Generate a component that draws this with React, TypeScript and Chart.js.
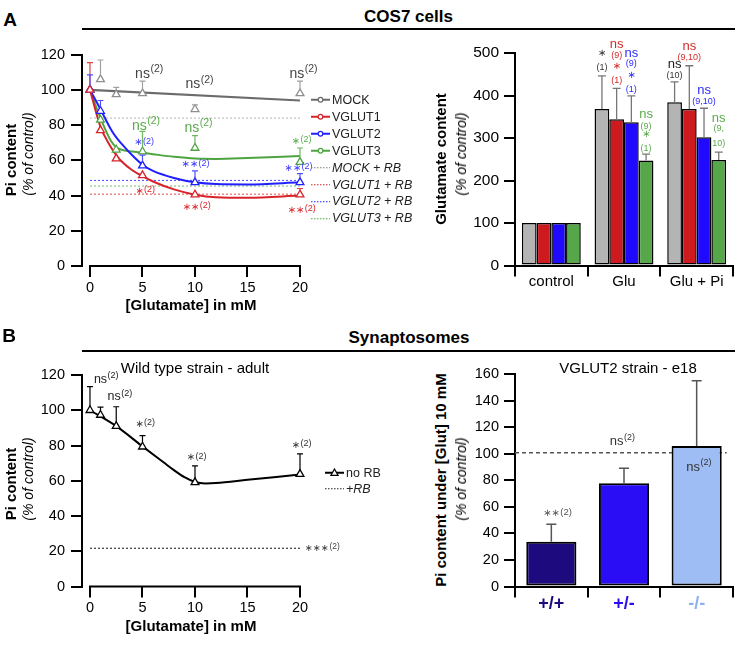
import React, { useEffect, useRef } from 'react';
import { Chart, registerables } from 'chart.js';

Chart.register(...registerables);

const FONT = '"Liberation Sans", Arial, Helvetica, sans-serif';
const AST_FONT = '"DejaVu Sans", sans-serif';
Chart.defaults.font.family = FONT;
Chart.defaults.color = '#000';

// ---------- Panel A left: COS7 Pi content ----------
const GLU_X = [0, 1, 2.5, 5, 10, 20];
const GLU_XTICKS = [0, 5, 10, 15, 20];
const PI_YTICKS = [0, 20, 40, 60, 80, 100, 120];
const MOCK_Y = [100, 106, 97.5, 98, 89, 98];
const MOCK_ERR = [null, 117, 101.5, 105, 91.5, 105];
const VGLUT1_Y = [100, 77, 61, 51.5, 40.5, 40.5];
const VGLUT1_ERR = [115.5, null, null, null, null, 44];
const VGLUT2_Y = [100, 88, null, 57, 47.5, 47.5];
const VGLUT2_ERR = [108.5, 94, null, 63, 54, 52.5];
const VGLUT3_Y = [100, 83, 66, 65, 67, 59];
const VGLUT3_ERR = [null, null, null, 76.5, 74, 67];
const MOCK_FIT_X = [0, 20];
const MOCK_FIT = [100, 94];
const FIT_X = [0, 1, 2, 2.5, 3, 4, 5, 6, 8, 10, 12, 15, 20];
const VGLUT1_FIT = [100, 79, 67.5, 63, 59.5, 54.5, 51, 48, 43.5, 40.5, 39, 38.7, 40];
const VGLUT2_FIT = [100, 89, 77.5, 73, 69.5, 63, 57.5, 54, 50, 47.5, 46.5, 46.3, 47.5];
const VGLUT3_FIT = [100, 84, 71, 67.5, 66, 65, 64.3, 63.5, 62, 61, 60.8, 61.3, 62.5];
const RB_X = [0, 20];
const MOCK_RB = 84;
const VGLUT1_RB = 40.8;
const VGLUT2_RB = 48.6;
const VGLUT3_RB = 45.4;

// ---------- Panel A right: glutamate content ----------
const GLU_CATS = ['control', 'Glu', 'Glu + Pi'];
const GLUT_YTICKS = [0, 100, 200, 300, 400, 500];
const GLUT_MOCK = [100, 368, 384];
const GLUT_V1 = [100, 344, 368];
const GLUT_V2 = [100, 337, 302];
const GLUT_V3 = [100, 247, 248];
const GLUT_MOCK_ERR = [null, 446, 432];
const GLUT_V1_ERR = [null, 417, 470];
const GLUT_V2_ERR = [null, 399, 370];
const GLUT_V3_ERR = [null, 262, 267];

// ---------- Panel B left: wild type synaptosomes ----------
const WT_Y = [100, 97.3, 91, 79.3, 59.1, 63.8];
const WT_ERR = [113.4, 101.8, 102, 85.6, 68.4, 75.2];
const WT_FIT_X = [0, 2.5, 5, 7, 8, 9, 10, 11, 12, 15, 20];
const WT_FIT = [100, 91, 79.5, 70.5, 66, 62, 59.3, 58.5, 58.7, 60.5, 63.5];
const WT_RB = 21.7;

// ---------- Panel B right: VGLUT2 strain ----------
const GENO = ['+/+', '+/-', '-/-'];
const GENO_YTICKS = [0, 20, 40, 60, 80, 100, 120, 140, 160];
const GENO_Y = [33.7, 77.7, 105.8];
const GENO_ERR = [46.8, 89, 155];
const GENO_REF = 100.7;
const GENO_REF_X = [0, 1];

const RED = '#d8232a';
const BLUE = '#1f1fff';
const GREEN = '#4fa442';
const GRAY_PT = '#8e8e8e';
const GRAY_FIT = '#6b6b6b';
const BAR_COLORS = ['#b4b4b4', '#cc1a1f', '#1f0aff', '#56a64a'];
const GENO_COLORS = ['#1c0a7e', '#2a0cf5', '#9fbdf5'];
const GENO_TICK_COLORS = ['#1c0a7e', '#2a0cf5', '#8fb0ee'];

type Ann = {
  x?: number;
  bar?: [number, number];
  y: number;
  t: string;
  s?: string;
  c: string;
  f: number;
  sf?: number;
  r?: number;
  left?: boolean;
};

const A_LEFT_ANNS: Ann[] = [
  { x: 5, y: 109, t: 'ns', s: '(2)', c: '#444', f: 14, sf: 10.5, r: 5 },
  { x: 9.8, y: 103, t: 'ns', s: '(2)', c: '#444', f: 14, sf: 10.5, r: 5 },
  { x: 19.7, y: 109, t: 'ns', s: '(2)', c: '#444', f: 14, sf: 10.5, r: 5 },
  { x: 4.7, y: 79.7, t: 'ns', s: '(2)', c: '#5aab4a', f: 14, sf: 10.5, r: 5 },
  { x: 9.7, y: 78.5, t: 'ns', s: '(2)', c: '#5aab4a', f: 14, sf: 10.5, r: 5 },
  { x: 19.6, y: 71, t: '∗', s: '(2)', c: '#5aab4a', f: 10, sf: 9, r: 1.5 },
  { x: 4.6, y: 70, t: '∗', s: '(2)', c: '#3a3aff', f: 10, sf: 9, r: 1.5 },
  { x: 9.5, y: 57.6, t: '∗∗', s: '(2)', c: '#3a3aff', f: 10, sf: 9, r: 1.5 },
  { x: 19.3, y: 55.4, t: '∗∗', s: '(2)', c: '#3a3aff', f: 10, sf: 9, r: 1.5 },
  { x: 4.7, y: 42.5, t: '∗', s: '(2)', c: RED, f: 10, sf: 9, r: 1.5 },
  { x: 9.6, y: 33.5, t: '∗∗', s: '(2)', c: RED, f: 10, sf: 9, r: 1.5 },
  { x: 19.6, y: 31.6, t: '∗∗', s: '(2)', c: RED, f: 10, sf: 9, r: 1.5 },
];

const AG = '#333';
const AR = '#d42a2a';
const AB = '#2a2aff';
const AGr = '#5aab4a';
const A_RIGHT_ANNS: Ann[] = [
  { bar: [0, 1], y: 500, t: '∗', c: AG, f: 10 },
  { bar: [0, 1], y: 466, t: '(1)', c: AG, f: 9 },
  { bar: [1, 1], y: 520, t: 'ns', c: AR, f: 13 },
  { bar: [1, 1], y: 494, t: '(9)', c: AR, f: 9 },
  { bar: [1, 1], y: 469, t: '∗', c: AR, f: 10 },
  { bar: [1, 1], y: 436, t: '(1)', c: AR, f: 9 },
  { bar: [2, 1], y: 500, t: 'ns', c: AB, f: 13 },
  { bar: [2, 1], y: 475, t: '(9)', c: AB, f: 9 },
  { bar: [2, 1], y: 448, t: '∗', c: AB, f: 10 },
  { bar: [2, 1], y: 415, t: '(1)', c: AB, f: 9 },
  { bar: [3, 1], y: 355, t: 'ns', c: AGr, f: 13 },
  { bar: [3, 1], y: 327, t: '(9)', c: AGr, f: 9 },
  { bar: [3, 1], y: 308, t: '∗', c: AGr, f: 10 },
  { bar: [3, 1], y: 276, t: '(1)', c: AGr, f: 9 },
  { bar: [0, 2], y: 473, t: 'ns', c: '#222', f: 13 },
  { bar: [0, 2], y: 447, t: '(10)', c: AG, f: 9 },
  { bar: [1, 2], y: 516, t: 'ns', c: AR, f: 13 },
  { bar: [1, 2], y: 489, t: '(9,10)', c: AR, f: 9 },
  { bar: [2, 2], y: 412, t: 'ns', c: AB, f: 13 },
  { bar: [2, 2], y: 386, t: '(9,10)', c: AB, f: 9 },
  { bar: [3, 2], y: 347, t: 'ns', c: AGr, f: 13 },
  { bar: [3, 2], y: 323, t: '(9,', c: AGr, f: 9 },
  { bar: [3, 2], y: 288, t: '10)', c: AGr, f: 9 },
];

const B_LEFT_ANNS: Ann[] = [
  { x: 1.0, y: 117.7, t: 'ns', s: '(2)', c: '#222', f: 12.5, sf: 9, r: 4 },
  { x: 2.3, y: 107.5, t: 'ns', s: '(2)', c: '#222', f: 12.5, sf: 9, r: 4 },
  { x: 4.7, y: 92, t: '∗', s: '(2)', c: '#333', f: 10, sf: 9, r: 1.5 },
  { x: 9.6, y: 73, t: '∗', s: '(2)', c: '#333', f: 10, sf: 9, r: 1.5 },
  { x: 19.6, y: 80, t: '∗', s: '(2)', c: '#333', f: 10, sf: 9, r: 1.5 },
  { x: 20.48, y: 21.7, t: '∗∗∗', s: '(2)', c: '#444', f: 9.5, sf: 8.5, r: 1.5, left: true },
];

const B_RIGHT_ANNS: Ann[] = [
  { x: 0.9, y: 109, t: 'ns', s: '(2)', c: '#333', f: 13, sf: 9, r: 4 },
  { x: 1.95, y: 90, t: 'ns', s: '(2)', c: '#333', f: 13, sf: 9, r: 4 },
  { x: 0, y: 55, t: '∗∗', s: '(2)', c: '#555', f: 10, sf: 9.5, r: 1 },
];

// ---------- plugins ----------
type ErrSpec = { ds: number; tops: (number | null)[]; color: string; cap: number; width: number; gap: number };

function errorBarPlugin(specs: ErrSpec[]) {
  return {
    id: 'errorBars',
    afterDatasetsDraw(chart: any) {
      const ctx = chart.ctx;
      const ys = chart.scales.y;
      specs.forEach((s) => {
        const meta = chart.getDatasetMeta(s.ds);
        const vals = chart.data.datasets[s.ds].data;
        s.tops.forEach((t, i) => {
          if (t == null) return;
          const el = meta.data[i];
          const raw = vals[i];
          const v = raw && typeof raw === 'object' ? raw.y : raw;
          if (!el || v == null) return;
          const x = el.x;
          const y0 = ys.getPixelForValue(v) - s.gap;
          const y1 = ys.getPixelForValue(t);
          ctx.save();
          ctx.strokeStyle = s.color;
          ctx.lineWidth = s.width;
          ctx.beginPath();
          ctx.moveTo(x, y0);
          ctx.lineTo(x, y1);
          ctx.moveTo(x - s.cap / 2, y1);
          ctx.lineTo(x + s.cap / 2, y1);
          ctx.stroke();
          ctx.restore();
        });
      });
    },
  };
}

function annotationPlugin(anns: Ann[]) {
  return {
    id: 'annotations',
    afterDatasetsDraw(chart: any) {
      const { ctx, scales } = chart;
      anns.forEach((a) => {
        const px = a.bar
          ? chart.getDatasetMeta(a.bar[0]).data[a.bar[1]].x
          : scales.x.getPixelForValue(a.x);
        const py = scales.y.getPixelForValue(a.y);
        const fam = a.t.includes('∗') ? AST_FONT : FONT;
        ctx.save();
        ctx.fillStyle = a.c;
        ctx.textBaseline = 'middle';
        ctx.textAlign = 'left';
        ctx.font = `${a.f}px ${fam}`;
        const w = ctx.measureText(a.t).width;
        const x0 = a.left ? px : px - w / 2;
        ctx.fillText(a.t, x0, py);
        if (a.s) {
          ctx.font = `${a.sf ?? 9}px ${FONT}`;
          ctx.fillText(a.s, x0 + w + 0.5, py - (a.r ?? 4));
        }
        ctx.restore();
      });
    },
  };
}

function partialXAxis(from: number, to: number) {
  return {
    id: 'partialXAxis',
    afterDraw(chart: any) {
      const { ctx } = chart;
      const xs = chart.scales.x;
      const py = chart.scales.y.getPixelForValue(0);
      ctx.save();
      ctx.strokeStyle = '#000';
      ctx.lineWidth = 2;
      ctx.beginPath();
      ctx.moveTo(xs.getPixelForValue(from) - 1, py);
      ctx.lineTo(xs.getPixelForValue(to) + 1, py);
      ctx.stroke();
      ctx.restore();
    },
  };
}

const fixTicks = (vals: number[]) => (s: any) => {
  s.ticks = vals.map((v) => ({ value: v }));
};

const tickGrid = (len: number, offset = false) => ({
  display: true,
  drawOnChartArea: false,
  drawTicks: true,
  tickLength: len,
  color: '#000',
  lineWidth: 2,
  offset,
});

const baseOptions = {
  animation: false as const,
  responsive: true,
  maintainAspectRatio: false,
  events: [] as any[],
  plugins: { legend: { display: false }, tooltip: { enabled: false }, title: { display: false } },
};

function lineScales(xHeight: number) {
  return {
    x: {
      type: 'linear',
      bounds: 'data',
      min: -0.76,
      max: 20,
      afterBuildTicks: fixTicks(GLU_XTICKS),
      afterFit: (s: any) => {
        s.height = xHeight;
      },
      border: { display: false },
      grid: tickGrid(11),
      ticks: { font: { size: 14.5 }, padding: 2, maxRotation: 0, autoSkip: false, color: '#000' },
      title: {
        display: true,
        text: '[Glutamate] in mM',
        font: { size: 15, weight: 'bold' },
        color: '#000',
        padding: { top: 0, bottom: 4 },
      },
    },
    y: {
      type: 'linear',
      bounds: 'data',
      min: 0,
      max: 120,
      afterBuildTicks: fixTicks(PI_YTICKS),
      afterFit: (s: any) => {
        s.width = 82;
      },
      border: { display: true, color: '#000', width: 2 },
      grid: tickGrid(11),
      ticks: { font: { size: 14.5 }, padding: 6, color: '#000' },
    },
  };
}

const xy = (xs: number[], ys: (number | null)[]) => xs.map((x, i) => ({ x, y: ys[i] }));

function ptsDs(label: string, ys: (number | null)[], color: string) {
  return {
    type: 'line',
    label,
    data: xy(GLU_X, ys),
    showLine: false,
    pointStyle: 'triangle',
    pointRadius: 4.5,
    pointBorderWidth: 1.3,
    pointBorderColor: color,
    pointBackgroundColor: '#fff',
    borderColor: color,
    clip: false,
  };
}

function fitDs(label: string, xs: number[], ys: number[], color: string, width = 2) {
  return {
    type: 'line',
    label,
    data: xy(xs, ys),
    borderColor: color,
    borderWidth: width,
    pointRadius: 0,
    cubicInterpolationMode: 'monotone',
    fill: false,
    clip: false,
  };
}

function rbDs(label: string, level: number, color: string) {
  return {
    type: 'line',
    label,
    data: RB_X.map((x) => ({ x, y: level })),
    borderColor: color,
    borderWidth: 1.1,
    borderDash: [2, 2],
    pointRadius: 0,
  };
}

function makeALeft(): any {
  return {
    type: 'line',
    data: {
      datasets: [
        ptsDs('VGLUT1', VGLUT1_Y, RED),
        ptsDs('VGLUT2', VGLUT2_Y, BLUE),
        ptsDs('VGLUT3', VGLUT3_Y, GREEN),
        ptsDs('MOCK', MOCK_Y, GRAY_PT),
        fitDs('VGLUT1 fit', FIT_X, VGLUT1_FIT, RED),
        fitDs('VGLUT2 fit', FIT_X, VGLUT2_FIT, BLUE),
        fitDs('VGLUT3 fit', FIT_X, VGLUT3_FIT, GREEN),
        fitDs('MOCK fit', MOCK_FIT_X, MOCK_FIT, GRAY_FIT, 2.2),
        rbDs('MOCK + RB', MOCK_RB, '#bbbbbb'),
        rbDs('VGLUT1 + RB', VGLUT1_RB, '#e25a5a'),
        rbDs('VGLUT2 + RB', VGLUT2_RB, '#5555ff'),
        rbDs('VGLUT3 + RB', VGLUT3_RB, '#88c07a'),
      ],
    },
    options: {
      ...baseOptions,
      layout: { padding: { top: 13, right: 45, left: 0, bottom: 0 } },
      scales: lineScales(53),
    },
    plugins: [
      errorBarPlugin([
        { ds: 0, tops: VGLUT1_ERR, color: '#dd4444', cap: 6, width: 1.2, gap: 4 },
        { ds: 1, tops: VGLUT2_ERR, color: '#5050ff', cap: 6, width: 1.2, gap: 4 },
        { ds: 2, tops: VGLUT3_ERR, color: '#6fb562', cap: 6, width: 1.2, gap: 4 },
        { ds: 3, tops: MOCK_ERR, color: '#a0a0a0', cap: 6, width: 1.2, gap: 4 },
      ]),
      partialXAxis(GLU_XTICKS[0], GLU_XTICKS[GLU_XTICKS.length - 1]),
      annotationPlugin(A_LEFT_ANNS),
    ],
  };
}

function barDs(label: string, data: number[], color: string) {
  return {
    label,
    data,
    backgroundColor: color,
    borderColor: '#000',
    borderWidth: 1.5,
    borderSkipped: false,
    categoryPercentage: 0.81,
    barPercentage: 1,
  };
}

function makeARight(): any {
  return {
    type: 'bar',
    data: {
      labels: GLU_CATS,
      datasets: [
        barDs('MOCK', GLUT_MOCK, BAR_COLORS[0]),
        barDs('VGLUT1', GLUT_V1, BAR_COLORS[1]),
        barDs('VGLUT2', GLUT_V2, BAR_COLORS[2]),
        barDs('VGLUT3', GLUT_V3, BAR_COLORS[3]),
      ],
    },
    options: {
      ...baseOptions,
      layout: { padding: { top: 23, right: 11, left: 0, bottom: 0 } },
      scales: {
        x: {
          type: 'category',
          offset: true,
          afterFit: (s: any) => {
            s.height = 34.5;
          },
          border: { display: true, color: '#000', width: 2 },
          grid: tickGrid(11, true),
          ticks: { font: { size: 15 }, padding: -4, maxRotation: 0, minRotation: 0, autoSkip: false, color: '#000' },
        },
        y: {
          type: 'linear',
          bounds: 'data',
          min: 0,
          max: 500,
          afterBuildTicks: fixTicks(GLUT_YTICKS),
          afterFit: (s: any) => {
            s.width = 60;
          },
          border: { display: true, color: '#000', width: 2 },
          grid: tickGrid(11),
          ticks: { font: { size: 15.5 }, padding: 5, color: '#000' },
        },
      },
    },
    plugins: [
      errorBarPlugin([
        { ds: 0, tops: GLUT_MOCK_ERR, color: '#777', cap: 8, width: 1.3, gap: 0 },
        { ds: 1, tops: GLUT_V1_ERR, color: '#777', cap: 8, width: 1.3, gap: 0 },
        { ds: 2, tops: GLUT_V2_ERR, color: '#777', cap: 8, width: 1.3, gap: 0 },
        { ds: 3, tops: GLUT_V3_ERR, color: '#777', cap: 8, width: 1.3, gap: 0 },
      ]),
      annotationPlugin(A_RIGHT_ANNS),
    ],
  };
}

function makeBLeft(): any {
  return {
    type: 'line',
    data: {
      datasets: [
        ptsDs('no RB', WT_Y, '#000'),
        fitDs('no RB fit', WT_FIT_X, WT_FIT, '#000'),
        rbDs('+RB', WT_RB, '#222'),
      ],
    },
    options: {
      ...baseOptions,
      layout: { padding: { top: 25, right: 45, left: 0, bottom: 0 } },
      scales: lineScales(53.5),
    },
    plugins: [
      errorBarPlugin([{ ds: 0, tops: WT_ERR, color: '#000', cap: 6, width: 1.2, gap: 4 }]),
      partialXAxis(GLU_XTICKS[0], GLU_XTICKS[GLU_XTICKS.length - 1]),
      annotationPlugin(B_LEFT_ANNS),
    ],
  };
}

function makeBRight(): any {
  return {
    type: 'bar',
    data: {
      labels: GENO,
      datasets: [
        {
          type: 'bar',
          label: 'Pi content',
          data: GENO_Y,
          backgroundColor: GENO_COLORS,
          borderColor: '#000',
          borderWidth: 2,
          borderSkipped: false,
          barPercentage: 0.69,
          categoryPercentage: 1,
          grouped: false,
          xAxisID: 'x',
        },
        {
          type: 'line',
          label: 'control',
          data: GENO_REF_X.map((x) => ({ x, y: GENO_REF })),
          xAxisID: 'x2',
          borderColor: '#555',
          borderWidth: 1.3,
          borderDash: [4, 3],
          pointRadius: 0,
        },
      ],
    },
    options: {
      ...baseOptions,
      layout: { padding: { top: 24, right: 11, left: 0, bottom: 0 } },
      scales: {
        x: {
          type: 'category',
          offset: true,
          afterFit: (s: any) => {
            s.height = 38.5;
          },
          border: { display: true, color: '#000', width: 2 },
          grid: tickGrid(11, true),
          ticks: {
            font: { size: 18, weight: 'bold' },
            padding: -4,
            maxRotation: 0,
            minRotation: 0,
            autoSkip: false,
            color: (c: any) => GENO_TICK_COLORS[c.index] || '#000',
          },
        },
        x2: {
          type: 'linear',
          display: false,
          offset: false,
          min: 0,
          max: 1.03,
          bounds: 'data',
          grid: { offset: false },
        },
        y: {
          type: 'linear',
          bounds: 'data',
          min: 0,
          max: 160,
          afterBuildTicks: fixTicks(GENO_YTICKS),
          afterFit: (s: any) => {
            s.width = 60;
          },
          border: { display: true, color: '#000', width: 2 },
          grid: tickGrid(11),
          ticks: { font: { size: 14.5 }, padding: 5, color: '#000' },
        },
      },
    },
    plugins: [
      errorBarPlugin([{ ds: 0, tops: GENO_ERR, color: '#555', cap: 10, width: 1.5, gap: 0 }]),
      annotationPlugin(B_RIGHT_ANNS),
    ],
  };
}

// ---------- components ----------
function ChartBox(props: { left: number; top: number; width: number; height: number; make: () => any }) {
  const ref = useRef<HTMLCanvasElement>(null);
  useEffect(() => {
    const chart = new Chart(ref.current as HTMLCanvasElement, props.make());
    return () => chart.destroy();
  }, []);
  return (
    <div style={{ position: 'absolute', left: props.left, top: props.top, width: props.width, height: props.height }}>
      <canvas ref={ref} />
    </div>
  );
}

function Txt(props: {
  x: number;
  y: number;
  size: number;
  bold?: boolean;
  italic?: boolean;
  rotate?: boolean;
  color?: string;
  children: React.ReactNode;
}) {
  return (
    <div
      style={{
        position: 'absolute',
        left: props.x,
        top: props.y,
        transform: `translate(-50%, -50%)${props.rotate ? ' rotate(-90deg)' : ''}`,
        fontSize: props.size,
        fontWeight: props.bold ? 'bold' : 'normal',
        fontStyle: props.italic ? 'italic' : 'normal',
        whiteSpace: 'nowrap',
        lineHeight: 1,
        color: props.color || '#000',
      }}
    >
      {props.children}
    </div>
  );
}

const LEG_A = [
  { label: 'MOCK', color: GRAY_FIT, dotted: false },
  { label: 'VGLUT1', color: RED, dotted: false },
  { label: 'VGLUT2', color: BLUE, dotted: false },
  { label: 'VGLUT3', color: GREEN, dotted: false },
  { label: 'MOCK + RB', color: '#777', dotted: true },
  { label: 'VGLUT1 + RB', color: RED, dotted: true },
  { label: 'VGLUT2 + RB', color: BLUE, dotted: true },
  { label: 'VGLUT3 + RB', color: GREEN, dotted: true },
];

const LEG_B = [
  { label: 'no RB', color: '#000', dotted: false },
  { label: '+RB', color: '#222', dotted: true },
];

function LegendRow(props: {
  x: number;
  y: number;
  color: string;
  dotted: boolean;
  marker: 'circle' | 'triangle';
  label: string;
  w: number;
}) {
  const { w } = props;
  return (
    <div
      style={{
        position: 'absolute',
        left: props.x,
        top: props.y,
        transform: 'translateY(-50%)',
        display: 'flex',
        alignItems: 'center',
        whiteSpace: 'nowrap',
        fontSize: 12.5,
        lineHeight: 1,
        fontStyle: props.dotted ? 'italic' : 'normal',
        color: '#222',
      }}
    >
      <svg width={w} height={10} style={{ marginRight: 2, display: 'block' }}>
        <line
          x1={0}
          y1={5}
          x2={w}
          y2={5}
          stroke={props.color}
          strokeWidth={props.dotted ? 1 : 2}
          strokeDasharray={props.dotted ? '1.5,1.5' : undefined}
        />
        {!props.dotted && props.marker === 'circle' && (
          <circle cx={w / 2} cy={5} r={2.3} fill="#fff" stroke={props.color} strokeWidth={1.2} />
        )}
        {!props.dotted && props.marker === 'triangle' && (
          <polygon
            points={`${w / 2},1.2 ${w / 2 + 3.6},7.6 ${w / 2 - 3.6},7.6`}
            fill="#fff"
            stroke={props.color}
            strokeWidth={1.2}
          />
        )}
      </svg>
      <span>{props.label}</span>
    </div>
  );
}

export default function App() {
  return (
    <div
      style={{
        position: 'absolute',
        left: 0,
        top: 0,
        width: 744,
        height: 647,
        background: '#fff',
        fontFamily: FONT,
        color: '#000',
        overflow: 'hidden',
      }}
    >
      {/* Panel A header */}
      <Txt x={10} y={18.5} size={19} bold>
        A
      </Txt>
      <Txt x={408.5} y={16} size={17} bold>
        COS7 cells
      </Txt>
      <div style={{ position: 'absolute', left: 82, top: 28, width: 653, height: 2, background: '#000' }} />

      {/* Panel A left */}
      <ChartBox left={0} top={40} width={345} height={279} make={makeALeft} />
      <Txt x={10} y={160} size={15} bold rotate>
        Pi content
      </Txt>
      <Txt x={28} y={154} size={14} italic rotate>
        (% of control)
      </Txt>
      {LEG_A.map((l, i) => (
        <LegendRow
          key={l.label}
          x={311}
          y={100 + i * 16.9}
          color={l.color}
          dotted={l.dotted}
          marker="circle"
          label={l.label}
          w={19}
        />
      ))}

      {/* Panel A right */}
      <ChartBox left={455} top={30} width={289} height={270} make={makeARight} />
      <Txt x={440} y={159} size={15} bold rotate>
        Glutamate content
      </Txt>
      <Txt x={461} y={154} size={14} italic rotate>
        (% of control)
      </Txt>

      {/* Panel B header */}
      <Txt x={9} y={335} size={19} bold>
        B
      </Txt>
      <Txt x={409} y={337} size={17} bold>
        Synaptosomes
      </Txt>
      <div style={{ position: 'absolute', left: 82, top: 350, width: 653, height: 2, background: '#000' }} />

      {/* Panel B left */}
      <ChartBox left={0} top={350} width={345} height={290} make={makeBLeft} />
      <Txt x={195} y={367} size={15}>
        Wild type strain - adult
      </Txt>
      <Txt x={10} y={484} size={15} bold rotate>
        Pi content
      </Txt>
      <Txt x={28} y={479} size={14} italic rotate>
        (% of control)
      </Txt>
      {LEG_B.map((l, i) => (
        <LegendRow
          key={l.label}
          x={325}
          y={473 + i * 16}
          color={l.color}
          dotted={l.dotted}
          marker="triangle"
          label={l.label}
          w={19}
        />
      ))}

      {/* Panel B right */}
      <ChartBox left={455} top={350} width={289} height={275} make={makeBRight} />
      <Txt x={628} y={367} size={15}>
        VGLUT2 strain - e18
      </Txt>
      <Txt x={440} y={480} size={15} bold rotate>
        Pi content under [Glut] 10 mM
      </Txt>
      <Txt x={461} y={479} size={14} italic rotate>
        (% of control)
      </Txt>
    </div>
  );
}
